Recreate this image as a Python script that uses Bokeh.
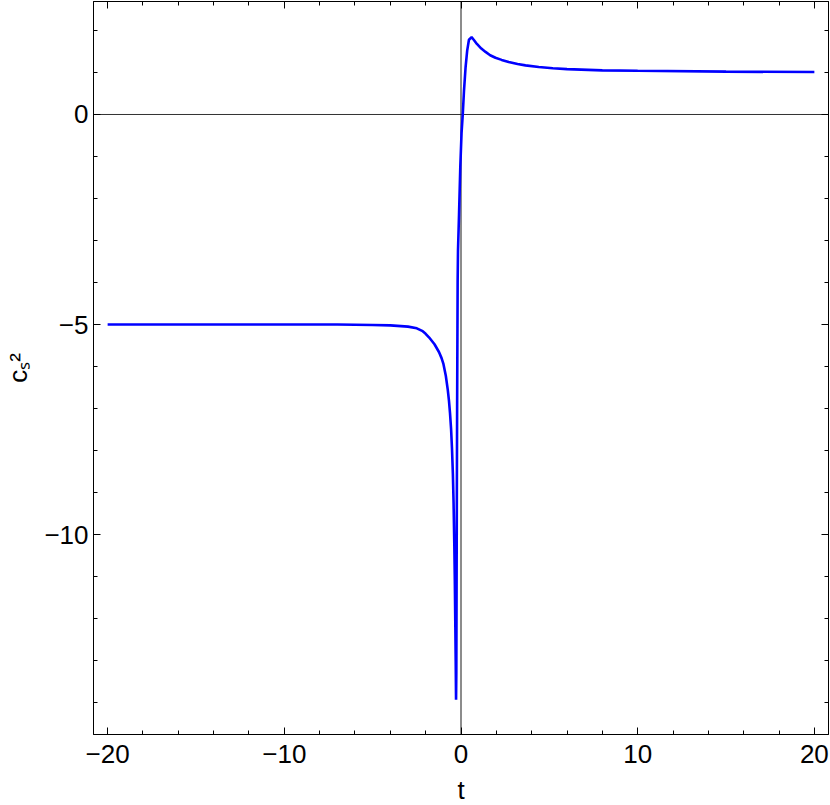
from bokeh.plotting import figure
from bokeh.models import Range1d, FixedTicker, LinearAxis, Span
from bokeh.embed import file_html
from bokeh.resources import INLINE

# ---- data ----
t = [-20, -15, -10, -7, -5, -4, -3, -2.5, -2.2, -2.0, -1.8, -1.5, -1.24, -1.1, -1.0, -0.86,
     -0.75, -0.68, -0.62, -0.56, -0.51, -0.46, -0.42, -0.38, -0.35, -0.32, -0.30, -0.28,
     -0.265, -0.25, -0.22, -0.19, -0.17, -0.11, -0.04, 0.03, 0.10, 0.17, 0.26, 0.35, 0.45,
     0.60, 0.72, 0.90, 1.15, 1.39, 1.65, 1.95, 2.30, 2.70, 3.20, 3.65, 4.40, 5.2, 6.0, 8.0,
     10.0, 15.0, 20.0]
cs2 = [-5.00, -5.00, -5.00, -5.00, -5.01, -5.02, -5.05, -5.09, -5.15, -5.22, -5.31, -5.47,
       -5.66, -5.80, -5.93, -6.22, -6.55, -6.82, -7.12, -7.50, -7.95, -8.55, -9.25, -10.20,
       -11.10, -12.20, -13.00, -13.93, -13.30, -11.20, -7.00, -4.00, -3.24, -2.36, -1.25,
       -0.45, 0.00, 0.57, 1.13, 1.52, 1.78, 1.84, 1.78, 1.68, 1.57, 1.49, 1.41, 1.35, 1.30,
       1.25, 1.20, 1.17, 1.13, 1.10, 1.08, 1.05, 1.04, 1.02, 1.01]

x_major = [-20, -10, 0, 10, 20]
x_minor = [-18, -16, -14, -12, -8, -6, -4, -2, 2, 4, 6, 8, 12, 14, 16, 18]
x_labels = {-20: "\u221220", -10: "\u221210", 0: "0", 10: "10", 20: "20"}
y_major = [-10, -5, 0]
y_minor = [-14, -13, -12, -11, -9, -8, -7, -6, -4, -3, -2, -1, 1, 2]
y_labels = {-10: "\u221210", -5: "\u22125", 0: "0"}

FONT = "Liberation Sans"
FS = "26px"

p = figure(frame_width=735, frame_height=733,
           x_range=Range1d(-20.8, 20.8), y_range=Range1d(-14.76, 2.69),
           output_backend="svg", toolbar_location=None,
           x_axis_label="t", y_axis_label="c\u209b\u00b2",
           min_border_left=86, min_border_top=1, min_border_right=1, min_border_bottom=71)
p.background_fill_color = "white"
p.border_fill_color = "white"
p.outline_line_color = "black"
p.outline_line_width = 1
p.xgrid.visible = False
p.ygrid.visible = False

p.xaxis.ticker = FixedTicker(ticks=x_major, minor_ticks=x_minor)
p.yaxis.ticker = FixedTicker(ticks=y_major, minor_ticks=y_minor)
p.xaxis.major_label_overrides = x_labels
p.yaxis.major_label_overrides = y_labels

for ax in (p.xaxis[0], p.yaxis[0]):
    ax.major_tick_in = 7
    ax.major_tick_out = 0
    ax.minor_tick_in = 4
    ax.minor_tick_out = 0
    ax.axis_line_color = "black"
    ax.major_tick_line_color = "black"
    ax.minor_tick_line_color = "black"
    ax.major_label_text_font = FONT
    ax.major_label_text_font_size = FS
    ax.major_label_text_color = "black"
    ax.axis_label_text_font = FONT
    ax.axis_label_text_font_size = FS
    ax.axis_label_text_font_style = "normal"
    ax.axis_label_text_color = "black"
p.xaxis.major_label_standoff = 10
p.xaxis.axis_label_standoff = 9
p.yaxis.major_label_standoff = 5
p.yaxis.axis_label_standoff = 8

# mirrored ticks on top and right (no labels)
top = LinearAxis(ticker=FixedTicker(ticks=x_major, minor_ticks=x_minor))
right = LinearAxis(ticker=FixedTicker(ticks=y_major, minor_ticks=y_minor))
for ax in (top, right):
    ax.major_tick_in = 7
    ax.major_tick_out = 0
    ax.minor_tick_in = 4
    ax.minor_tick_out = 0
    ax.major_label_text_color = None
    ax.major_label_text_font_size = "1px"
    ax.major_label_standoff = 0
    ax.axis_line_color = "black"
p.add_layout(top, "above")
p.add_layout(right, "right")

# zero axes
p.add_layout(Span(location=0, dimension="height", line_color="#8c8c8c", line_width=2, level="underlay"))
p.add_layout(Span(location=0, dimension="width", line_color="#333333", line_width=1, level="underlay"))

p.line(t, cs2, line_color="#0000ff", line_width=2.6)

open("out.html", "w").write(file_html(p, INLINE))
